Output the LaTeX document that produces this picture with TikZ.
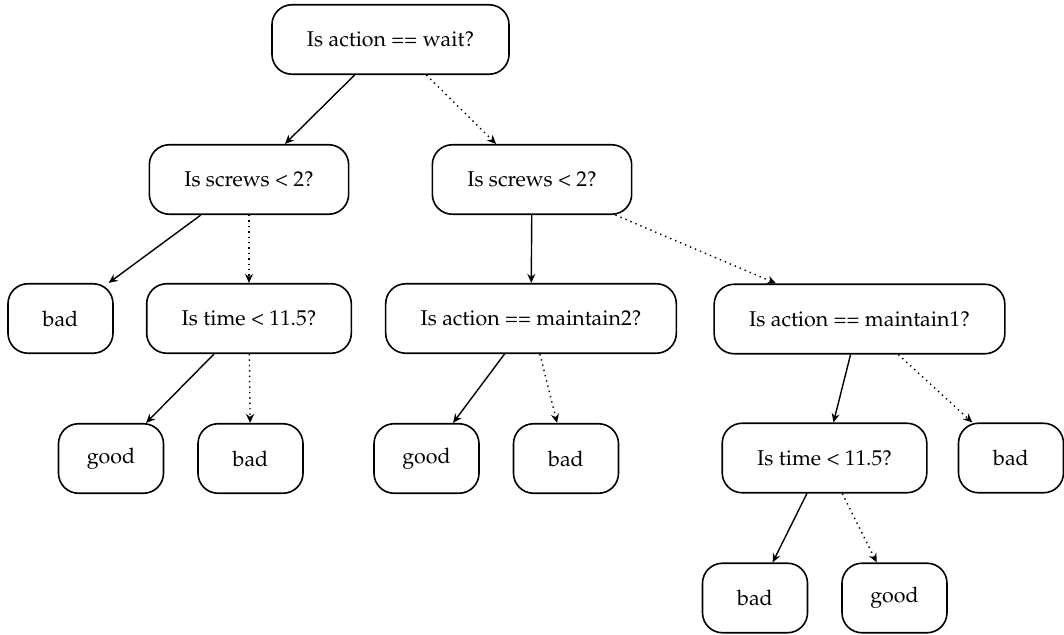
\documentclass[tikz,border=0pt]{standalone}
\usepackage[T1]{fontenc}
\usepackage{mathpazo}
\usetikzlibrary{arrows.meta}
\begin{document}
\begin{tikzpicture}[x=0.5pt,y=-0.5pt,
  test/.style={draw, line width=0.8pt, rounded corners=10pt,
    minimum height=34.75pt, inner xsep=17.5pt,
    font=\fontsize{10.7}{13}\selectfont},
  leaf/.style={test, inner xsep=4pt, minimum width=52.5pt},
  yes/.style={-{Stealth[length=4.5pt,width=4pt]}, line width=0.7pt},
  no/.style={yes, dotted}]
\useasboundingbox (0,0) rectangle (1064,635);

% decision nodes and leaves
\node[test] (root) at (390.5,39.5) {Is action == wait?};
\node[test] (a)    at (249,179.5)  {Is screws < 2?};
\node[test] (b)    at (532,179.5)  {Is screws < 2?};
\node[leaf] (a1)   at (60.5,318.5) {bad};
\node[test] (a2)   at (249,318.5)  {Is time < 11.5?};
\node[test] (b1)   at (531,318.5)  {Is action == maintain2?};
\node[test] (b2)   at (859.5,319)  {Is action == maintain1?};
\node[leaf] (a21)  at (111,458.5)  {good};
\node[leaf] (a22)  at (250.5,458.5){bad};
\node[leaf] (b11)  at (426.5,458.5){good};
\node[leaf] (b12)  at (566,458.5)  {bad};
\node[test] (b21)  at (824.5,458)  {Is time < 11.5?};
\node[leaf] (b22)  at (1011,458)   {bad};
\node[leaf] (b211) at (755,598)    {bad};
\node[leaf] (b212) at (894.5,598)  {good};

% true branches solid, false branches dotted
\draw[yes] (root) -- (a);
\draw[no]  (root) -- (b);
\draw[yes] (a) -- (a1);
\draw[no]  (a) -- (a2);
\draw[yes] (b) -- (b1);
\draw[no]  (b) -- (b2);
\draw[yes] (a2) -- (a21);
\draw[no]  (a2) -- (a22);
\draw[yes] (b1) -- (b11);
\draw[no]  (b1) -- (b12);
\draw[yes] (b2) -- (b21);
\draw[no]  (b2) -- (b22);
\draw[yes] (b21) -- (b211);
\draw[no]  (b21) -- (b212);
\end{tikzpicture}
\end{document}
